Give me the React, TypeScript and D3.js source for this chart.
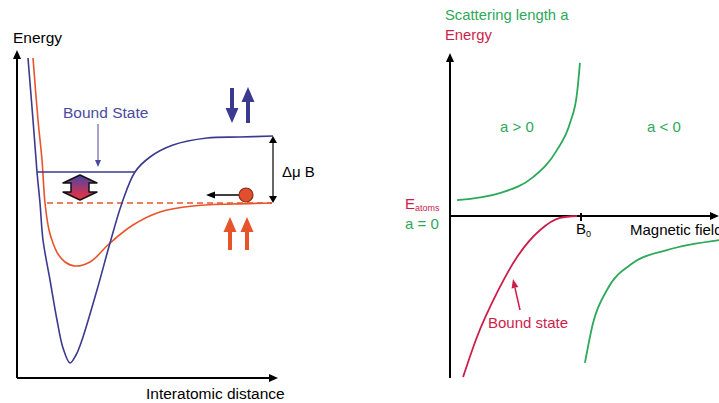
import React from "react";
import * as d3 from "d3";

// left panel: potential curves (interatomic distance, energy) in arbitrary units
const openChannel: [number, number][] = [
  [1.6, 32.0], [2.1, 25.8], [2.5, 21.8], [2.8, 17.5], [3.2, 14.8], [3.6, 13.5],
  [4.1, 12.4], [4.8, 11.6], [5.8, 11.2], [7.3, 11.6], [9.3, 13.5], [11.6, 15.3],
  [14.3, 16.6], [17.6, 17.2], [21.6, 17.4], [25.5, 17.5],
];
const closedChannel: [number, number][] = [
  [1.1, 32.0], [1.6, 25.8], [2.0, 20.6], [2.3, 17.5], [2.6, 13.8], [3.3, 9.8],
  [4.0, 5.8], [4.6, 3.0], [5.3, 1.5], [5.9, 2.3], [6.5, 3.8], [8.0, 8.8],
  [9.3, 13.5], [10.5, 17.5], [11.8, 20.6], [13.3, 22.1], [15.6, 23.3],
  [19.0, 24.0], [22.3, 24.1], [25.6, 24.2],
];
const boundLevel = { from: 2.0, to: 11.8, energy: 20.6 };
const openThreshold = { from: 3.0, to: 25.5, energy: 17.5 };
const closedThreshold = 24.2;

// right panel: scattering length / energy vs magnetic field
const B0 = 5;
const aPositive: [number, number][] = [
  [0.27, 0.59], [1.9, 0.85], [3.17, 1.44], [4.08, 2.44], [4.58, 3.44], [4.85, 4.56], [4.96, 5.67],
];
const aNegative: [number, number][] = [
  [5.15, -5.44], [5.46, -3.96], [5.99, -2.74], [6.98, -1.74], [8.28, -1.26], [10.27, -0.89],
];
const boundState: [number, number][] = [
  [0.5, -5.96], [1.03, -4.48], [1.79, -2.85], [2.56, -1.52], [3.44, -0.52], [4.2, -0.07], [4.85, 0],
];

const W = 719;
const H = 403;
const FONT = "'Liberation Sans', Arial, sans-serif";

const BLUE = "#3a3a90";
const ORANGE = "#e8542a";
const GREEN = "#2ea85a";
const CRIMSON = "#cc1e4a";

const lx = d3.scaleLinear().domain([0, 26]).range([17, 277]);
const ly = d3.scaleLinear().domain([0, 32.6]).range([378, 52]);
const rx = d3.scaleLinear().domain([0, 10]).range([450, 712]);
const ry = d3.scaleLinear().domain([-6, 6]).range([378, 54]);

const leftLine = d3
  .line<[number, number]>()
  .x((d) => lx(d[0]))
  .y((d) => ly(d[1]))
  .curve(d3.curveCatmullRom.alpha(0.5));

const rightLine = d3
  .line<[number, number]>()
  .x((d) => rx(d[0]))
  .y((d) => ry(d[1]))
  .curve(d3.curveMonotoneX);

// filled triangle head pointing in direction (dx, dy) with tip at (x, y)
const head = (x: number, y: number, dx: number, dy: number, len: number, half: number) => {
  const px = -dy;
  const py = dx;
  const bx = x - dx * len;
  const by = y - dy * len;
  return `${x},${y} ${bx + px * half},${by + py * half} ${bx - px * half},${by - py * half}`;
};

const App = () => {
  const arrowX = lx(25.6);
  const yTop = ly(closedThreshold);
  const yBot = ly(openThreshold.energy);
  return (
    <svg
      width={W}
      height={H}
      style={{ position: "absolute", left: 0, top: 0, background: "#fff" }}
      fontFamily={FONT}
    >
      <defs>
        <linearGradient id="grad" x1="0" y1="0" x2="0" y2="1">
          <stop offset="0%" stopColor="#4a44a8" />
          <stop offset="100%" stopColor="#f5303a" />
        </linearGradient>
      </defs>

      {/* ---------- left panel ---------- */}
      <line x1={17} y1={378} x2={17} y2={58} stroke="#000" strokeWidth={2} />
      <polygon points={head(17, 50, 0, -1, 9, 4)} fill="#000" />
      <line x1={17} y1={378} x2={270} y2={378} stroke="#000" strokeWidth={2} />
      <polygon points={head(278, 378, 1, 0, 9, 4)} fill="#000" />
      <text x={13} y={43} fontSize={15.5}>Energy</text>
      <text x={146} y={399} fontSize={15.5}>Interatomic distance</text>

      <line
        x1={lx(openThreshold.from)}
        x2={lx(openThreshold.to)}
        y1={ly(openThreshold.energy)}
        y2={ly(openThreshold.energy)}
        stroke={ORANGE}
        strokeWidth={1.5}
        strokeDasharray="6,4"
      />
      <path d={leftLine(openChannel) ?? ""} fill="none" stroke={ORANGE} strokeWidth={1.6} />
      <path d={leftLine(closedChannel) ?? ""} fill="none" stroke={BLUE} strokeWidth={1.6} />
      <line
        x1={lx(boundLevel.from)}
        x2={lx(boundLevel.to)}
        y1={ly(boundLevel.energy)}
        y2={ly(boundLevel.energy)}
        stroke={BLUE}
        strokeWidth={1.5}
      />

      <text x={63} y={118} fontSize={15.5} fill="#4a4aa0">Bound State</text>
      <line x1={98} y1={124} x2={98} y2={160} stroke="#4a4aa0" strokeWidth={1} />
      <polygon points={head(98, 167, 0, 1, 7, 3)} fill="#4a4aa0" />

      <polygon
        points="80,175 97,183 89,183 89,192 97,192 80,200 63,192 71,192 71,183 63,183"
        fill="url(#grad)"
        stroke="#111"
        strokeWidth={1.5}
        strokeLinejoin="round"
      />

      {/* spin arrows */}
      <line x1={232} y1={88} x2={232} y2={110} stroke={BLUE} strokeWidth={4} />
      <polygon points={head(232, 123, 0, 1, 15, 6.5)} fill={BLUE} />
      <line x1={248} y1={100} x2={248} y2={123} stroke={BLUE} strokeWidth={4} />
      <polygon points={head(248, 87, 0, -1, 15, 6.5)} fill={BLUE} />

      <line x1={230} y1={230} x2={230} y2={250} stroke={ORANGE} strokeWidth={4} />
      <polygon points={head(230, 217, 0, -1, 15, 6.5)} fill={ORANGE} />
      <line x1={247} y1={230} x2={247} y2={250} stroke={ORANGE} strokeWidth={4} />
      <polygon points={head(247, 217, 0, -1, 15, 6.5)} fill={ORANGE} />

      {/* incoming atom */}
      <line x1={239} y1={195} x2={214} y2={195} stroke="#000" strokeWidth={1.5} />
      <polygon points={head(206, 195, -1, 0, 9, 3.5)} fill="#000" />
      <circle cx={246} cy={195} r={7} fill="#e0502e" stroke="#8a2812" strokeWidth={1.2} />

      {/* detuning arrow */}
      <line x1={arrowX} y1={yTop + 6} x2={arrowX} y2={yBot - 6} stroke="#000" strokeWidth={1.2} />
      <polygon points={head(arrowX, yTop, 0, -1, 7, 4)} fill="#000" />
      <polygon points={head(arrowX, yBot, 0, 1, 7, 4)} fill="#000" />
      <text x={282} y={177} fontSize={15}>Δμ B</text>

      {/* ---------- right panel ---------- */}
      <line x1={rx(0)} y1={ry(-6)} x2={rx(0)} y2={62} stroke="#000" strokeWidth={2} />
      <polygon points={head(rx(0), 53, 0, -1, 9, 4)} fill="#000" />
      <line x1={rx(0)} y1={ry(0)} x2={712} y2={ry(0)} stroke="#000" strokeWidth={2} />
      <polygon points={head(719, ry(0), 1, 0, 9, 4)} fill="#000" />
      <line x1={rx(B0)} y1={ry(0) - 3} x2={rx(B0)} y2={ry(0) + 5} stroke="#000" strokeWidth={2} />

      <text x={445} y={20} fontSize={14.8} fill={GREEN}>Scattering length a</text>
      <text x={445} y={40} fontSize={14.8} fill={CRIMSON}>Energy</text>
      <text x={500} y={132} fontSize={15} fill={GREEN}>a &gt; 0</text>
      <text x={647} y={132} fontSize={15} fill={GREEN}>a &lt; 0</text>

      <text x={405} y={209} fontSize={15} fill={CRIMSON}>
        E<tspan fontSize={9} dy={2}>atoms</tspan>
      </text>
      <text x={405} y={229} fontSize={15} fill={GREEN}>a = 0</text>
      <text x={576} y={234} fontSize={15}>
        B<tspan fontSize={9} dy={3}>0</tspan>
      </text>
      <text x={630} y={235} fontSize={15}>Magnetic field</text>

      <path d={rightLine(aPositive) ?? ""} fill="none" stroke={GREEN} strokeWidth={1.8} />
      <path d={rightLine(aNegative) ?? ""} fill="none" stroke={GREEN} strokeWidth={1.8} />
      <path d={rightLine(boundState) ?? ""} fill="none" stroke={CRIMSON} strokeWidth={1.8} />

      <line x1={520} y1={310} x2={515} y2={288} stroke={CRIMSON} strokeWidth={1.5} />
      <polygon points={head(513, 279, -0.22, -0.97, 9, 3.5)} fill={CRIMSON} />
      <text x={488} y={328} fontSize={15} fill={CRIMSON}>Bound state</text>
    </svg>
  );
};

export default App;
